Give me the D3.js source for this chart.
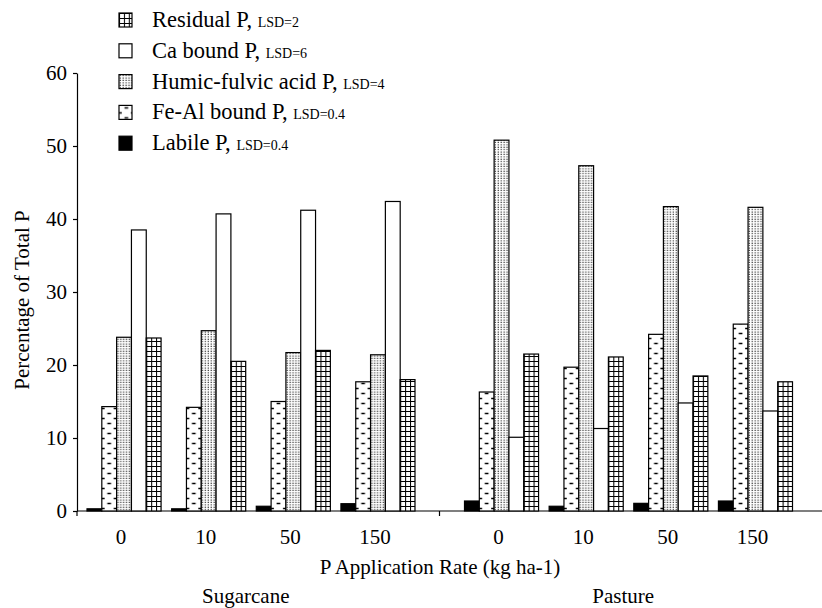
<!DOCTYPE html>
<html>
<head>
<meta charset="utf-8">
<script src="https://cdn.jsdelivr.net/npm/d3@7"></script>
<style>
  body { margin: 0; background: #fff; }
  text { font-family: "Liberation Serif", "Times New Roman", serif; fill: #000; }
</style>
</head>
<body>
<div id="chart"></div>
<script>
// values (% of total P)
const sites = ["Sugarcane", "Pasture"]
const rates = ["0", "10", "50", "150"]
const fractions = ["Labile", "FeAl", "Humic", "Ca", "Residual"]
const labile   = [0.3, 0.3, 0.65, 1.0, 1.37, 0.65, 1.05, 1.37]
const feAl     = [14.3, 14.2, 15.0, 17.7, 16.3, 19.7, 24.2, 25.6]
const humic    = [23.8, 24.7, 21.7, 21.4, 50.8, 47.3, 41.7, 41.6]
const caBound  = [38.5, 40.7, 41.2, 42.4, 10.1, 11.3, 14.8, 13.7]
const residual = [23.7, 20.5, 22.0, 18.0, 21.5, 21.1, 18.5, 17.7]
const yTicks = [0, 10, 20, 30, 40, 50, 60]

// legend order (top to bottom)
const legendKeys = ["Residual", "Ca", "Humic", "FeAl", "Labile"]
const legendNames = ["Residual P,", "Ca bound P,", "Humic-fulvic acid P,", "Fe-Al bound P,", "Labile P,"]
const legendLsd = ["LSD=2", "LSD=6", "LSD=4", "LSD=0.4", "LSD=0.4"]

const series = { Labile: labile, FeAl: feAl, Humic: humic, Ca: caBound, Residual: residual }

const W = 822, H = 608
const svg = d3.select("#chart").append("svg")
  .attr("width", W).attr("height", H)

const defs = svg.append("defs")

// grid pattern for residual P
const pGrid = defs.append("pattern").attr("id", "pat-Residual")
  .attr("patternUnits", "userSpaceOnUse").attr("width", 4.9).attr("height", 5)
pGrid.append("rect").attr("width", 4.9).attr("height", 5).attr("fill", "#fff")
pGrid.append("path").attr("d", "M0.5,0V5M0,0.5H4.9").attr("stroke", "#000").attr("stroke-width", 1.1)

// fine dots for humic-fulvic
const pDot = defs.append("pattern").attr("id", "pat-Humic")
  .attr("patternUnits", "userSpaceOnUse").attr("width", 2.9).attr("height", 2.4)
pDot.append("rect").attr("width", 2.9).attr("height", 2.4).attr("fill", "#fff")
pDot.append("rect").attr("x", 0.6).attr("y", 0.5).attr("width", 1.3).attr("height", 1.1).attr("fill", "#333")

// staggered dashes for Fe-Al
const pDash = defs.append("pattern").attr("id", "pat-FeAl")
  .attr("patternUnits", "userSpaceOnUse").attr("width", 14.7).attr("height", 10)
pDash.append("rect").attr("width", 14.7).attr("height", 10).attr("fill", "#fff")
pDash.append("path").attr("d", "M5.5,2.5H9.2M0,7.5H2.8M11.9,7.5H14.7")
  .attr("stroke", "#000").attr("stroke-width", 1.6)

const fills = {
  Labile: "#000",
  FeAl: "url(#pat-FeAl)",
  Humic: "url(#pat-Humic)",
  Ca: "#fff",
  Residual: "url(#pat-Residual)"
}

// scales
const y = d3.scaleLinear().domain([0, 60]).range([511, 73])

const xSite = d3.scaleBand().domain(sites).range([62, 817])
const xRate = d3.scaleBand().domain(rates)
  .range([25, xSite.bandwidth() - 24.5])
  .paddingInner(0.125)
const xFrac = d3.scaleBand().domain(fractions).range([0, xRate.bandwidth()])

// axes
const yAxis = svg.append("g")
  .attr("transform", "translate(77,0)")
  .call(d3.axisLeft(y).tickValues(yTicks).tickSize(4).tickPadding(6).tickSizeOuter(0))
yAxis.selectAll("text").style("font-size", "21px").style("font-family", "Liberation Serif")
yAxis.select(".domain").attr("stroke-width", 1.2)
yAxis.selectAll(".tick line").attr("stroke-width", 1.2)

svg.append("line")
  .attr("x1", 77).attr("x2", W).attr("y1", y(0)).attr("y2", y(0))
  .attr("stroke", "#000").attr("stroke-width", 1.2)
// site separator ticks
svg.selectAll(".sitetick")
  .data([77, xSite("Pasture")])
  .join("line")
  .attr("x1", d => d).attr("x2", d => d)
  .attr("y1", y(0)).attr("y2", y(0) + 5)
  .attr("stroke", "#000").attr("stroke-width", 1.2)

// bars
const siteG = svg.selectAll(".site")
  .data(sites)
  .join("g")
  .attr("transform", d => `translate(${xSite(d)},0)`)

siteG.each(function(site, si) {
  const g = d3.select(this)
  rates.forEach((rate, ri) => {
    const idx = si * rates.length + ri
    const rg = g.append("g").attr("transform", `translate(${xRate(rate)},0)`)
    fractions.forEach(f => {
      const v = series[f][idx]
      rg.append("g")
        .attr("transform", `translate(${xFrac(f)},${y(0)})`)
        .append("rect")
        .attr("x", 0)
        .attr("y", y(v) - y(0))
        .attr("width", xFrac.bandwidth())
        .attr("height", y(0) - y(v))
        .attr("fill", fills[f])
        .attr("stroke", "#000")
        .attr("stroke-width", 1.2)
    })
    // rate label
    g.append("text")
      .attr("x", xRate(rate) + xRate.bandwidth() / 2 - 3)
      .attr("y", 544)
      .attr("text-anchor", "middle")
      .style("font-size", "21px")
      .text(rate)
  })
  g.append("text")
    .attr("x", xSite.bandwidth() / 2 - 5)
    .attr("y", 603)
    .attr("text-anchor", "middle")
    .style("font-size", "21px")
    .text(site)
})

// axis titles
svg.append("text")
  .attr("x", 440).attr("y", 574)
  .attr("text-anchor", "middle")
  .style("font-size", "21px")
  .text("P Application Rate (kg ha-1)")

svg.append("text")
  .attr("transform", "translate(29,300) rotate(-90)")
  .attr("text-anchor", "middle")
  .style("font-size", "21px")
  .text("Percentage of Total P")

// legend
const leg = svg.selectAll(".leg")
  .data(legendKeys)
  .join("g")
  .attr("transform", (d, i) => `translate(119,${13 + i * 30.8})`)

leg.append("rect")
  .attr("width", 13).attr("height", 14)
  .attr("fill", d => fills[d])
  .attr("stroke", "#000").attr("stroke-width", 1.2)

const lt = leg.append("text")
  .attr("x", 33).attr("y", 14)
  .style("font-size", "22.5px")
lt.append("tspan").text((d, i) => legendNames[i] + " ")
lt.append("tspan").style("font-size", "14px").text((d, i) => legendLsd[i])
</script>
</body>
</html>
